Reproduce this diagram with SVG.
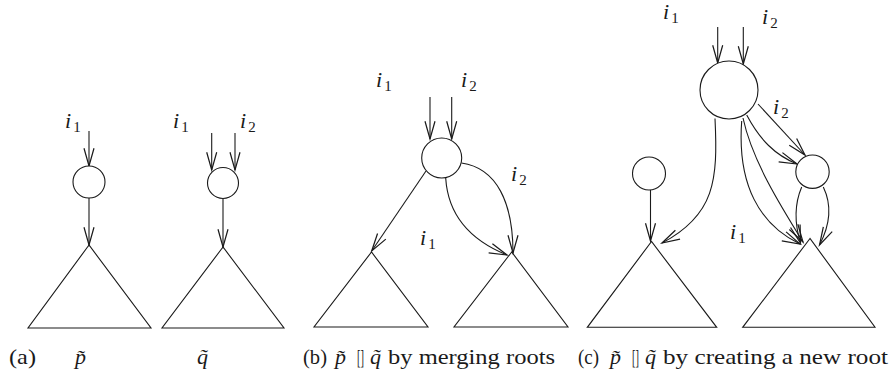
<svg xmlns="http://www.w3.org/2000/svg" width="896" height="378" viewBox="0 0 896 378">
<style>
.n{fill:#fff;stroke:#1a1a1a;stroke-width:1.1}
.t{fill:none;stroke:#1a1a1a;stroke-width:1.1}
.e{fill:none;stroke:#1a1a1a;stroke-width:1.1;marker-end:url(#ah)}
.cap{font-family:"Liberation Serif","Times New Roman",Tinos,"DejaVu Serif",serif;font-size:22px;fill:#1a1a1a}
.mi{font-family:"Liberation Serif","Times New Roman",Tinos,"DejaVu Serif",serif;font-size:22px;font-style:italic;fill:#1a1a1a}
.lab{font-family:"Liberation Serif","Times New Roman",Tinos,"DejaVu Serif",serif;font-size:22px;font-style:italic;fill:#1a1a1a}
.sub{font-size:15px;font-style:normal}
</style>
<defs>
<marker id="ah" markerUnits="userSpaceOnUse" markerWidth="20" markerHeight="12" viewBox="0 0 18 10" refX="16" refY="5" orient="auto" overflow="visible">
<path d="M0,0.5 L16,5 L0,9.5" fill="none" stroke="#1a1a1a" stroke-width="1.1"/>
</marker>
</defs>

<g id="connectors">
<path class="e" d="M89,131 L89,166"/>
<path class="e" d="M89,198 L89,245"/>
<path class="e" d="M211.7,133 L211.7,170"/>
<path class="e" d="M235,133 L235,170"/>
<path class="e" d="M223,199 L223,247"/>

<path class="e" d="M430,97 L430,139"/>
<path class="e" d="M451.7,97 L451.7,139"/>
<path class="e" d="M426,171 L371.7,251"/>
<path class="e" d="M461.5,163 C497,168 513,203 513,253"/>
<path class="e" d="M445.7,178 C448,215 470,240 507,255"/>

<path class="e" d="M717.7,27 L717.7,63"/>
<path class="e" d="M743.3,27 L743.3,64"/>
<path class="e" d="M650.5,190 L650.5,241"/>
<path class="e" d="M715,118.5 C718,180 715,215 662,243"/>
<path class="e" d="M758,104 L805,155"/>
<path class="e" d="M746.7,115 C760,140 775,155 797,164"/>
<path class="e" d="M743,118 C752,160 780,205 803,242"/>
<path class="e" d="M741.7,121 C737,185 760,225 800,244"/>
<path class="e" d="M801.7,187 C794,205 795,225 800.5,243"/>
<path class="e" d="M823.3,187 C832,205 830,225 819.5,245"/>
</g>

<g id="a_p_root"><circle class="n" cx="89" cy="182" r="16"/></g>
<g id="a_p_tree"><polygon class="t" points="89,245 28,328 151,328"/></g>
<g id="a_q_root"><circle class="n" cx="223" cy="183" r="15.5"/></g>
<g id="a_q_tree"><polygon class="t" points="223,247 162,328 284,328"/></g>

<g id="b_root"><circle class="n" cx="441.7" cy="158" r="20"/></g>
<g id="b_left_tree"><polygon class="t" points="371.5,252 314,327 428,327"/></g>
<g id="b_right_tree"><polygon class="t" points="511.7,252 454,327 568,327"/></g>

<g id="c_root"><circle class="n" cx="729" cy="90" r="29"/></g>
<g id="c_left_node"><circle class="n" cx="649" cy="173.5" r="16.5"/></g>
<g id="c_right_node"><circle class="n" cx="812.5" cy="171.7" r="16.7"/></g>
<g id="c_left_tree"><polygon class="t" points="651.5,241.5 587.3,327.3 716.7,327.3"/></g>
<g id="c_right_tree"><polygon class="t" points="810,238.5 742.7,327.3 875,327.3"/></g>

<g id="labels">
<text class="lab" x="65" y="128">i<tspan class="sub" dx="2" dy="4">1</tspan></text>
<text class="lab" x="173" y="128">i<tspan class="sub" dx="2" dy="4">1</tspan></text>
<text class="lab" x="240" y="128">i<tspan class="sub" dx="2" dy="4">2</tspan></text>

<text class="lab" x="376" y="87">i<tspan class="sub" dx="2" dy="4">1</tspan></text>
<text class="lab" x="461" y="87">i<tspan class="sub" dx="2" dy="4">2</tspan></text>
<text class="lab" x="511" y="181">i<tspan class="sub" dx="2" dy="4">2</tspan></text>
<text class="lab" x="420" y="245">i<tspan class="sub" dx="2" dy="4">1</tspan></text>

<text class="lab" x="663" y="19">i<tspan class="sub" dx="2" dy="4">1</tspan></text>
<text class="lab" x="762" y="24">i<tspan class="sub" dx="2" dy="4">2</tspan></text>
<text class="lab" x="773" y="114">i<tspan class="sub" dx="2" dy="4">2</tspan></text>
<text class="lab" x="730" y="239">i<tspan class="sub" dx="2" dy="4">1</tspan></text>
</g>

<g id="captions">
<text class="cap" x="9" y="364" textLength="27" lengthAdjust="spacingAndGlyphs">(a)</text>
<text class="mi" x="75" y="364">p̃</text>
<text class="mi" x="197" y="364">q̃</text>

<text class="cap" x="303" y="364" textLength="24" lengthAdjust="spacingAndGlyphs">(b)</text>
<text class="mi" x="335" y="364">p̃</text>
<text class="cap" x="357" y="364" textLength="7" lengthAdjust="spacingAndGlyphs">[]</text>
<text class="mi" x="370" y="364">q̃</text>
<text class="cap" x="388" y="364" textLength="167" lengthAdjust="spacingAndGlyphs">by merging roots</text>

<text class="cap" x="578" y="364" textLength="21" lengthAdjust="spacingAndGlyphs">(c)</text>
<text class="mi" x="610" y="364">p̃</text>
<text class="cap" x="632" y="364" textLength="7" lengthAdjust="spacingAndGlyphs">[]</text>
<text class="mi" x="645" y="364">q̃</text>
<text class="cap" x="663" y="364" textLength="225" lengthAdjust="spacingAndGlyphs">by creating a new root</text>
</g>
</svg>
